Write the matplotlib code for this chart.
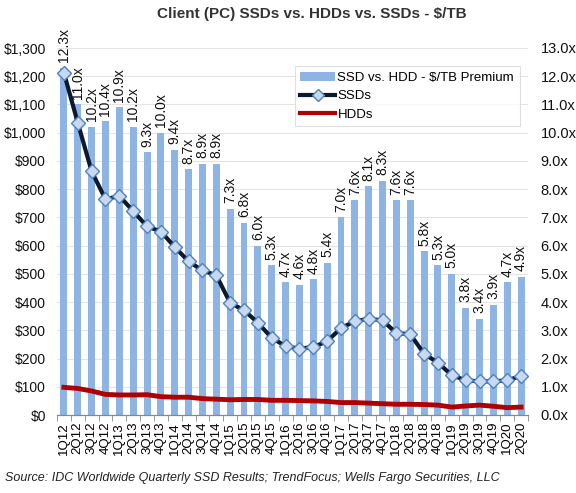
import matplotlib
matplotlib.use("Agg")
import matplotlib.pyplot as plt
from matplotlib.ticker import FuncFormatter
from matplotlib.patches import Patch
from matplotlib.lines import Line2D
import numpy as np

plt.rcParams['font.family'] = ['Liberation Sans', 'DejaVu Sans']

quarters = ["1Q12", "2Q12", "3Q12", "4Q12", "1Q13", "2Q13", "3Q13", "4Q13",
            "1Q14", "2Q14", "3Q14", "4Q14", "1Q15", "2Q15", "3Q15", "4Q15",
            "1Q16", "2Q16", "3Q16", "4Q16", "1Q17", "2Q17", "3Q17", "4Q17",
            "1Q18", "2Q18", "3Q18", "4Q18", "1Q19", "2Q19", "3Q19", "4Q19",
            "1Q20", "2Q20"]
premium = [12.3, 11.0, 10.2, 10.4, 10.9, 10.2, 9.3, 10.0, 9.4, 8.7, 8.9, 8.9,
           7.3, 6.8, 6.0, 5.3, 4.7, 4.6, 4.8, 5.4, 7.0, 7.6, 8.1, 8.3,
           7.6, 7.6, 5.8, 5.3, 5.0, 3.8, 3.4, 3.9, 4.7, 4.9]
ssd = [1212, 1035, 863, 764, 776, 722, 668, 650, 595, 544, 512, 495,
       397, 371, 327, 273, 244, 235, 241, 261, 308, 332, 341, 335,
       290, 286, 217, 185, 141, 123, 119, 119, 123, 138]
hdd = [98, 94, 85, 73, 71, 71, 72, 65, 63, 63, 58, 56,
       54, 55, 55, 52, 52, 51, 50, 48, 44, 44, 42, 40,
       38, 38, 37, 35, 28, 32, 35, 31, 26, 28]

W, H = 576, 493
fig = plt.figure(figsize=(W/100, H/100), dpi=100)
L, R, B, T = 57, 528, 415, 48
ax = fig.add_axes([L/W, 1-B/H, (R-L)/W, (B-T)/H])
ax2 = ax.twinx()

x = np.arange(len(quarters))
ax2.bar(x, premium, width=0.5, color='#8db4e2', zorder=2)
ax2.set_ylim(0, 13)
ax.set_ylim(0, 1300)
ax.set_xlim(-0.5, len(quarters) - 0.5)

for xi, v in zip(x, premium):
    ax2.text(xi, v + 0.2, f"{v:.1f}x", rotation=90, ha='center', va='bottom',
             fontsize=10, color='#111111', clip_on=False, zorder=5)

ax.set_zorder(ax2.get_zorder() + 1)
ax.patch.set_visible(False)
ax2.patch.set_visible(True)

ax.plot(x, ssd, color='#0b1a2e', lw=3, marker='D', ms=7.5,
        mfc='#c6d9f1', mec='#4f81bd', mew=1, zorder=4, label='SSDs')
ax.plot(x, hdd, color='#b00000', lw=3.5, zorder=4, label='HDDs')

ax2.set_yticks(np.arange(0, 14, 1))
ax2.grid(axis='y', color='#e4e4e4', lw=0.8, zorder=0)
ax2.set_xticks(np.arange(-0.5, len(quarters), 1), minor=True)
ax2.grid(axis='x', which='minor', color='#e4e4e4', lw=0.8, zorder=0)
ax2.set_axisbelow(True)

ax.set_yticks(np.arange(0, 1301, 100))
ax.yaxis.set_major_formatter(FuncFormatter(lambda v, p: f"${int(v):,}"))
ax2.yaxis.set_major_formatter(FuncFormatter(lambda v, p: f"{v:.1f}x"))

ax.set_xticks(x)
ax.set_xticklabels(quarters, rotation=90, fontsize=9.5)
ax.set_xticks(np.arange(-0.5, len(quarters), 1), minor=True)
ax.tick_params(axis='x', which='major', length=0, pad=5)
ax.tick_params(axis='x', which='minor', length=4, color='#888888', direction='out')
ax.tick_params(axis='y', length=0, labelsize=10, pad=8)
ax2.tick_params(axis='y', length=0, labelsize=10.5, pad=9)
ax2.tick_params(axis='x', which='both', length=0)
for lab in ax.get_yticklabels() + ax2.get_yticklabels():
    lab.set_color('#111111')

for a in (ax, ax2):
    for s in ('top', 'right', 'left'):
        a.spines[s].set_visible(False)
    a.spines['bottom'].set_color('#888888')

handles = [Patch(facecolor='#8db4e2', label='SSD vs. HDD - $/TB Premium'),
           Line2D([], [], color='#0b1a2e', lw=3, marker='D', ms=6,
                  mfc='#c6d9f1', mec='#4f81bd', label='SSDs'),
           Line2D([], [], color='#b00000', lw=3, label='HDDs')]
leg = ax.legend(handles=handles, loc='upper right',
                bbox_to_anchor=((520 - L)/(R - L), 1 - (66 - T)/(B - T)),
                prop={'size': 9.5}, frameon=True, fancybox=False, handlelength=2.6,
                handletextpad=0.2, labelspacing=0.45, borderpad=0.45,
                borderaxespad=0)
leg.get_frame().set_edgecolor('#d8d8d8')
leg.get_frame().set_linewidth(0.8)

fig.text(312/W, 1 - 14/H, "Client (PC) SSDs vs. HDDs vs. SSDs - $/TB",
         ha='center', va='center', fontsize=11, fontweight='bold', color='#333333')
fig.text(5/W, 1 - 478/H,
         "Source: IDC Worldwide Quarterly SSD Results; TrendFocus; Wells Fargo Securities, LLC",
         ha='left', va='center', fontsize=9, style='italic', color='#222222')

fig.savefig("out.png", dpi=100)
